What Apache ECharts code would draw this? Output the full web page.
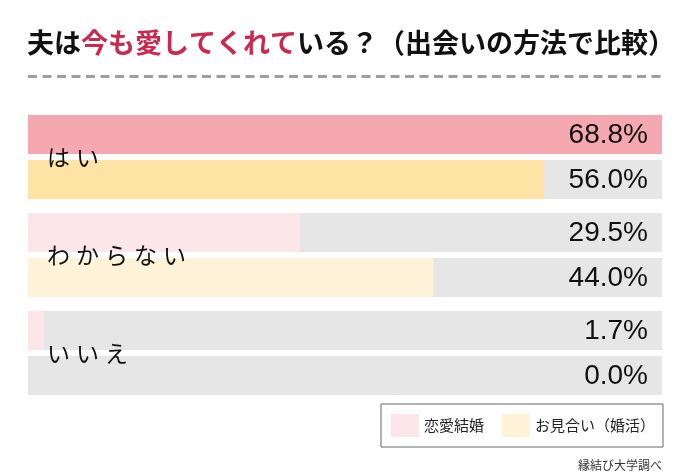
<!DOCTYPE html>
<html>
<head>
<meta charset="utf-8">
<script src="https://cdn.jsdelivr.net/npm/echarts@6/dist/echarts.min.js"></script>
<style>
html,body{margin:0;padding:0;background:#fff;}
#chart{width:690px;height:475px;}
</style>
</head>
<body>
<div id="chart"></div>
<script>
var categories = ['はい', 'わからない', 'いいえ'];
var seriesNames = ['恋愛結婚', 'お見合い（婚活）'];
var renaiValues = [68.8, 29.5, 1.7];
var omiaiValues = [56.0, 44.0, 0.0];

var titleBlack1 = '夫は';
var titleRed = '今も愛してくれて';
var titleBlack2 = 'いる？（出会いの方法で比較）';
var sourceText = '縁結び大学調べ';

var pinkLight = '#FDE6EA', pinkStrong = '#F6A8B0';
var yellowLight = '#FEF2D8', yellowStrong = '#FDE3A4';
var trackGrey = '#E6E6E6';

function buildData(values, strong) {
  return values.map(function (v, i) {
    var item = { value: v };
    if (i === 0) item.itemStyle = { color: strong };
    return item;
  });
}

var chart = echarts.init(document.getElementById('chart'), null, { renderer: 'canvas' });

var barCommon = {
  type: 'bar',
  barWidth: 39,
  barGap: '15.4%',
  showBackground: true,
  backgroundStyle: { color: trackGrey },
  label: {
    show: true,
    position: 'insideLeft',
    fontFamily: '"Liberation Sans", Arial, sans-serif',
    fontSize: 28,
    color: '#111',
    formatter: function (p) { return p.value.toFixed(1) + '%'; }
  },
  labelLayout: function (p) {
    return { x: 648, y: p.rect.y + p.rect.height / 2 + 1, align: 'right', verticalAlign: 'middle' };
  },
  emphasis: { disabled: true },
  silent: true
};

chart.setOption({
  animation: false,
  backgroundColor: '#fff',
  title: {
    text: '{k|' + titleBlack1 + '}{r|' + titleRed + '}{k|' + titleBlack2 + '}',
    left: 27,
    top: 29,
    padding: 0,
    textStyle: {
      rich: {
        k: { fontFamily: '"Noto Sans CJK JP"', fontWeight: 'bold', fontSize: 27, color: '#111' },
        r: { fontFamily: '"Noto Sans CJK JP"', fontWeight: 'bold', fontSize: 27, color: '#C92A50' }
      }
    }
  },
  legend: {
    data: seriesNames,
    right: 27,
    top: 404,
    orient: 'horizontal',
    itemWidth: 28,
    itemHeight: 23,
    itemGap: 18,
    padding: [10, 8, 10, 10],
    borderColor: '#666',
    borderWidth: 1,
    borderRadius: 0,
    icon: 'rect',
    selectedMode: false,
    textStyle: { fontFamily: '"Noto Sans CJK JP"', fontSize: 15, color: '#222', padding: [0, 0, 0, 0] }
  },
  grid: { left: 28, right: 28, top: 108, height: 294, containLabel: false },
  xAxis: {
    type: 'value',
    min: 0,
    max: 'dataMax',
    show: false
  },
  yAxis: {
    type: 'category',
    data: categories,
    inverse: true,
    z: 10,
    axisLine: { show: false },
    axisTick: { show: false },
    axisLabel: {
      inside: true,
      margin: 16,
      formatter: function (name) {
        return name.split('').map(function (c) { return '{c|' + c + '}'; }).join('');
      },
      rich: {
        c: { fontFamily: '"Noto Sans CJK JP"', fontSize: 23, color: '#111', padding: [0, 3, 0, 3] }
      }
    }
  },
  series: [
    Object.assign({}, barCommon, { name: seriesNames[0], color: pinkLight, data: buildData(renaiValues, pinkStrong) }),
    Object.assign({}, barCommon, { name: seriesNames[1], color: yellowLight, data: buildData(omiaiValues, yellowStrong) })
  ],
  graphic: [
    {
      type: 'line',
      shape: { x1: 28, y1: 76.5, x2: 661, y2: 76.5 },
      style: { stroke: '#9E9E9E', lineWidth: 3, lineDash: [9, 5.5] },
      silent: true
    },
    {
      type: 'text',
      right: 28,
      top: 459,
      style: { text: sourceText, font: '12px "Noto Sans CJK JP"', fill: '#333' },
      silent: true
    }
  ]
});
</script>
</body>
</html>
